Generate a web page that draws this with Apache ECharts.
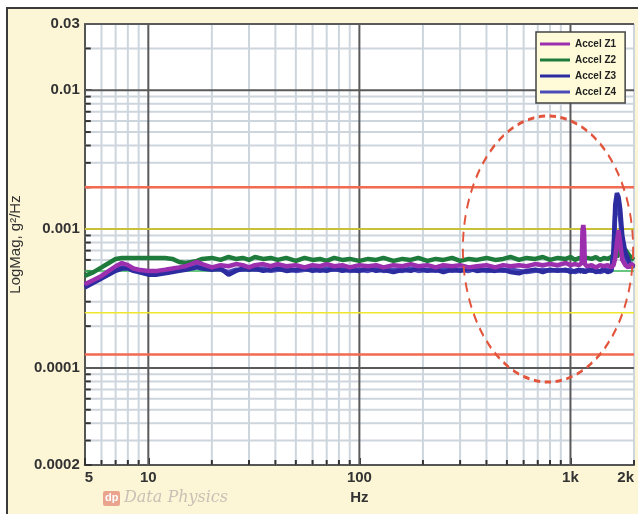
<!DOCTYPE html>
<html>
<head>
<meta charset="utf-8">
<script src="https://cdn.jsdelivr.net/npm/echarts@6/dist/echarts.min.js"></script>
<style>
html, body { margin: 0; padding: 0; background: #fff; overflow: hidden; }
#frame { position: absolute; left: 6px; top: 7px; width: 630px; height: 505px; border-left: 2px solid #3a3a3a; border-top: 2px solid #3a3a3a; background: #fcf6d6; }
#chart { position: absolute; left: 0; top: 0; width: 638px; height: 514px; }
</style>
</head>
<body>
<div id="frame"></div>
<div id="chart"></div>
<script>
// frequencies, Hz
const freqs = [5, 5.5, 6, 6.5, 7, 7.5, 8, 8.5, 9, 10, 11, 12, 13, 14, 15, 16, 17, 18, 20, 22,
    24, 26, 28, 30, 32, 35, 38, 41, 45, 50, 55, 60, 65, 70, 76, 83, 90, 100, 110, 120,
    130, 145, 160, 175, 190, 210, 230, 250, 275, 300, 330, 360, 400, 440, 480, 520, 570, 620, 680, 740,
    800, 870, 950, 1000, 1050, 1100, 1130, 1140, 1150, 1160, 1170, 1200, 1260, 1320, 1380, 1440, 1500, 1560, 1600, 1630,
    1660, 1690, 1720, 1760, 1820, 1880, 1940, 2000];

// PSD, g^2/Hz
const accelZ1 = [0.00040, 0.00043, 0.00046, 0.00050, 0.00054, 0.00057, 0.00055, 0.00052, 0.00051, 0.00050, 0.00050, 0.00051, 0.00052, 0.00053, 0.00054, 0.00056, 0.00058, 0.00056, 0.00053, 0.00055,
    0.00054, 0.00056, 0.00055, 0.00053, 0.00055, 0.00056, 0.00054, 0.00056, 0.00054, 0.00055, 0.00053, 0.00055, 0.00054, 0.00056, 0.00054, 0.00055, 0.00053, 0.00055, 0.00054, 0.00055,
    0.00053, 0.00055, 0.00054, 0.00056, 0.00054, 0.00055, 0.00053, 0.00055, 0.00054, 0.00055, 0.00053, 0.00054, 0.00055, 0.00053, 0.00055, 0.00054, 0.00055, 0.00054, 0.00056, 0.00055,
    0.00056, 0.00055, 0.00057, 0.00055, 0.00056, 0.00055, 0.00057, 0.00098, 0.00107, 0.00096, 0.00056, 0.00054, 0.00055, 0.00053, 0.00055, 0.00054, 0.00055, 0.00053, 0.00055, 0.00062,
    0.00080, 0.00098, 0.00080, 0.00060, 0.00055, 0.00053, 0.00056, 0.00054];
const accelZ2 = [0.00046, 0.00049, 0.00053, 0.00057, 0.00061, 0.00062, 0.00062, 0.00062, 0.00062, 0.00062, 0.00062, 0.00062, 0.00061, 0.00058, 0.00057, 0.00058, 0.00059, 0.00061, 0.00062, 0.00060,
    0.00063, 0.00061, 0.00062, 0.00060, 0.00063, 0.00061, 0.00062, 0.00060, 0.00062, 0.00059, 0.00062, 0.00060, 0.00061, 0.00059, 0.00062, 0.00060, 0.00061, 0.00059, 0.00061, 0.00060,
    0.00062, 0.00059, 0.00061, 0.00060, 0.00062, 0.00059, 0.00061, 0.00060, 0.00062, 0.00059, 0.00061, 0.00060, 0.00062, 0.00060, 0.00061, 0.00063, 0.00060, 0.00062, 0.00061, 0.00063,
    0.00060, 0.00062, 0.00061, 0.00063, 0.00060, 0.00062, 0.00061, 0.00062, 0.00063, 0.00061, 0.00060, 0.00062, 0.00061, 0.00063, 0.00060, 0.00062, 0.00061, 0.00063, 0.00065, 0.00068,
    0.00063, 0.00066, 0.00073, 0.00069, 0.00071, 0.00066, 0.00062, 0.00060];
const accelZ3 = [0.00038, 0.00041, 0.00044, 0.00047, 0.00050, 0.00052, 0.00052, 0.00050, 0.00049, 0.00047, 0.00047, 0.00048, 0.00049, 0.00050, 0.00051, 0.00052, 0.00053, 0.00052, 0.00051, 0.00052,
    0.00047, 0.00050, 0.00052, 0.00051, 0.00052, 0.00050, 0.00051, 0.00052, 0.00050, 0.00051, 0.00052, 0.00050, 0.00051, 0.00050, 0.00052, 0.00050, 0.00051, 0.00050, 0.00052, 0.00050,
    0.00051, 0.00049, 0.00051, 0.00050, 0.00052, 0.00050, 0.00051, 0.00049, 0.00051, 0.00050, 0.00052, 0.00050, 0.00051, 0.00050, 0.00051, 0.00049, 0.00048, 0.00050, 0.00051, 0.00049,
    0.00051, 0.00050, 0.00051, 0.00049, 0.00050, 0.00051, 0.00049, 0.00051, 0.00050, 0.00051, 0.00049, 0.00050, 0.00051, 0.00049, 0.00050, 0.00051, 0.00049, 0.00050, 0.00070, 0.00150,
    0.00182, 0.00170, 0.00140, 0.00090, 0.00068, 0.00060, 0.00054, 0.00056];
const accelZ4 = [0.00039, 0.00042, 0.00045, 0.00048, 0.00051, 0.00053, 0.00053, 0.00051, 0.00050, 0.00048, 0.00048, 0.00049, 0.00050, 0.00051, 0.00052, 0.00053, 0.00054, 0.00053, 0.00052, 0.00051,
    0.00049, 0.00051, 0.00051, 0.00052, 0.00051, 0.00052, 0.00050, 0.00051, 0.00052, 0.00050, 0.00051, 0.00052, 0.00050, 0.00052, 0.00051, 0.00052, 0.00050, 0.00051, 0.00050, 0.00052,
    0.00050, 0.00051, 0.00050, 0.00052, 0.00050, 0.00051, 0.00050, 0.00052, 0.00050, 0.00051, 0.00050, 0.00052, 0.00050, 0.00051, 0.00050, 0.00051, 0.00050, 0.00049, 0.00050, 0.00051,
    0.00050, 0.00051, 0.00050, 0.00051, 0.00049, 0.00050, 0.00051, 0.00050, 0.00051, 0.00049, 0.00050, 0.00051, 0.00050, 0.00051, 0.00049, 0.00050, 0.00051, 0.00050, 0.00065, 0.00130,
    0.00160, 0.00150, 0.00120, 0.00080, 0.00064, 0.00057, 0.00053, 0.00055];

const seriesNames = ['Accel Z1', 'Accel Z2', 'Accel Z3', 'Accel Z4'];

// limit lines (abort / alarm / reference profile)
const abortLevels = [0.002, 0.000125];
const alarmLevels = [0.001, 0.00025];
const refLevel = 0.0005;

// axis ticks
const xTickValues = [5, 10, 100, 1000, 2000];
const xTickLabels = ['5', '10', '100', '1k', '2k'];
const yTickValues = [0.00002, 0.0001, 0.001, 0.01, 0.03];
const yTickLabels = ['0.0002', '0.0001', '0.001', '0.01', '0.03'];

const xMajor = [10, 100, 1000];
const xMinor = [6, 7, 8, 9, 20, 30, 40, 50, 60, 70, 80, 90, 200, 300, 400, 500, 600, 700, 800, 900, 2000];
const yMajor = [0.03, 0.01, 0.001, 0.0001];
const yMinor = [0.02, 0.009, 0.008, 0.007, 0.006, 0.005, 0.004, 0.003, 0.002,
    0.0009, 0.0008, 0.0007, 0.0006, 0.0005, 0.0004, 0.0003, 0.0002,
    0.00009, 0.00008, 0.00007, 0.00006, 0.00005, 0.00004, 0.00003];

function pickLabel(values, labels, v) {
    for (let i = 0; i < values.length; i++) {
        if (Math.abs(v - values[i]) / values[i] < 0.01) return labels[i];
    }
    return '';
}

function pairs(ys) {
    return freqs.map((f, i) => [f, ys[i]]);
}

function levelLine(v) {
    return [[freqs[0], v], [freqs[freqs.length - 1], v]];
}

function vLines(color, tick) {
    return function (params, api) {
        const cs = params.coordSys;
        const x = api.coord([api.value(0), api.value(1)])[0];
        const bottom = cs.y + cs.height;
        const children = [{ type: 'line', shape: { x1: x, y1: cs.y, x2: x, y2: bottom }, style: { stroke: color, lineWidth: 2 } }];
        if (tick) children.push({ type: 'line', shape: { x1: x, y1: bottom, x2: x, y2: bottom - tick }, style: { stroke: '#333', lineWidth: 2 } });
        return { type: 'group', children: children };
    };
}

function hLines(color, tick) {
    return function (params, api) {
        const cs = params.coordSys;
        const y = api.coord([api.value(0), api.value(1)])[1];
        const children = [{ type: 'line', shape: { x1: cs.x, y1: y, x2: cs.x + cs.width, y2: y }, style: { stroke: color, lineWidth: 2 } }];
        if (tick) children.push({ type: 'line', shape: { x1: cs.x, y1: y, x2: cs.x + tick, y2: y }, style: { stroke: '#333', lineWidth: 2 } });
        return { type: 'group', children: children };
    };
}

function limitSeries(v, color, width) {
    return {
        type: 'line', data: levelLine(v), symbol: 'none', silent: true, z: 2,
        lineStyle: { color: color, width: width }
    };
}

function traceSeries(name, ys, color, z) {
    return {
        name: name, type: 'line', data: pairs(ys), symbol: 'none', z: z,
        color: color, lineStyle: { color: color, width: 4.5 }
    };
}

const chart = echarts.init(document.getElementById('chart'));

chart.setOption({
    animation: false,
    grid: { left: 80, right: 4, top: 24, bottom: 49, show: true, backgroundColor: '#fff', borderWidth: 0 },
    legend: {
        data: seriesNames,
        orient: 'vertical',
        left: 536,
        top: 32,
        icon: 'rect',
        itemWidth: 30,
        itemHeight: 3,
        itemGap: 4,
        padding: [6, 9, 5, 4],
        backgroundColor: '#fffbd8',
        borderColor: '#444',
        borderWidth: 1.5,
        selectedMode: false,
        textStyle: { fontSize: 10, color: '#222', fontFamily: 'Liberation Sans', fontWeight: 'bold', lineHeight: 12 }
    },
    xAxis: {
        type: 'log',
        logBase: 10,
        min: 5,
        max: 2000,
        name: 'Hz',
        nameLocation: 'middle',
        nameGap: 24,
        nameTextStyle: { fontSize: 15, fontWeight: 'bold', color: '#333', fontFamily: 'Liberation Sans' },
        axisLine: { lineStyle: { color: '#555', width: 2 } },
        axisTick: { inside: true, length: 7, lineStyle: { color: '#333', width: 2 } },
        axisLabel: {
            margin: 5, fontSize: 15, fontWeight: 'bold', color: '#333', fontFamily: 'Liberation Sans',
            alignMinLabel: 'left', alignMaxLabel: 'right',
            formatter: v => pickLabel(xTickValues, xTickLabels, v)
        },
        splitLine: { show: false }
    },
    yAxis: {
        type: 'log',
        logBase: 10,
        min: 0.00002,
        max: 0.03,
        name: 'LogMag, g²/Hz',
        nameLocation: 'middle',
        nameGap: 54,
        nameTextStyle: { fontSize: 15, color: '#333', fontFamily: 'Liberation Sans' },
        axisLine: { lineStyle: { color: '#555', width: 2 } },
        axisTick: { inside: true, length: 7, lineStyle: { color: '#333', width: 2 } },
        axisLabel: {
            margin: 5, fontSize: 15, fontWeight: 'bold', color: '#333', fontFamily: 'Liberation Sans',
            formatter: v => pickLabel(yTickValues, yTickLabels, v)
        },
        splitLine: { show: false }
    },
    graphic: [
        {
            type: 'circle', x: 548, y: 249, scaleX: 0.64, scaleY: 1, z: 100, silent: true,
            shape: { cx: 0, cy: 0, r: 133 },
            style: { fill: 'none', stroke: '#e2553c', lineWidth: 3, lineDash: [10, 7], strokeNoScale: true }
        },
        { type: 'rect', left: 103, top: 491, shape: { width: 17, height: 15, r: 2 }, style: { fill: '#eaa48e' } },
        { type: 'text', left: 105, top: 492, style: { text: 'dp', fill: '#fff', font: 'bold 11px Liberation Sans' } },
        { type: 'text', left: 124, top: 490, style: { text: 'Data Physics', fill: '#cdbfb5', font: 'italic 16px DejaVu Serif' } }
    ],
    series: [
        { type: 'custom', silent: true, z: 1, renderItem: vLines('#cdd5dd', 5), data: xMinor.map(f => [f, 0.001]) },
        { type: 'custom', silent: true, z: 1, renderItem: hLines('#cdd5dd', 6), data: yMinor.map(v => [10, v]) },
        { type: 'custom', silent: true, z: 1.5, renderItem: vLines('#5a5a5a', 0), data: xMajor.map(f => [f, 0.001]) },
        { type: 'custom', silent: true, z: 1.5, renderItem: hLines('#5a5a5a', 0), data: yMajor.map(v => [10, v]) },
        limitSeries(refLevel, '#45c060', 1.5),
        limitSeries(alarmLevels[0], '#efe62e', 1.5),
        limitSeries(alarmLevels[1], '#efe62e', 1.5),
        limitSeries(abortLevels[0], '#f26a50', 2.5),
        limitSeries(abortLevels[1], '#f26a50', 2.5),
        traceSeries(seriesNames[1], accelZ2, '#1e7b3c', 3),
        traceSeries(seriesNames[3], accelZ4, '#4a4ab8', 4),
        traceSeries(seriesNames[2], accelZ3, '#2c2ca0', 5),
        traceSeries(seriesNames[0], accelZ1, '#9b2fae', 6)
    ]
});
</script>
</body>
</html>
